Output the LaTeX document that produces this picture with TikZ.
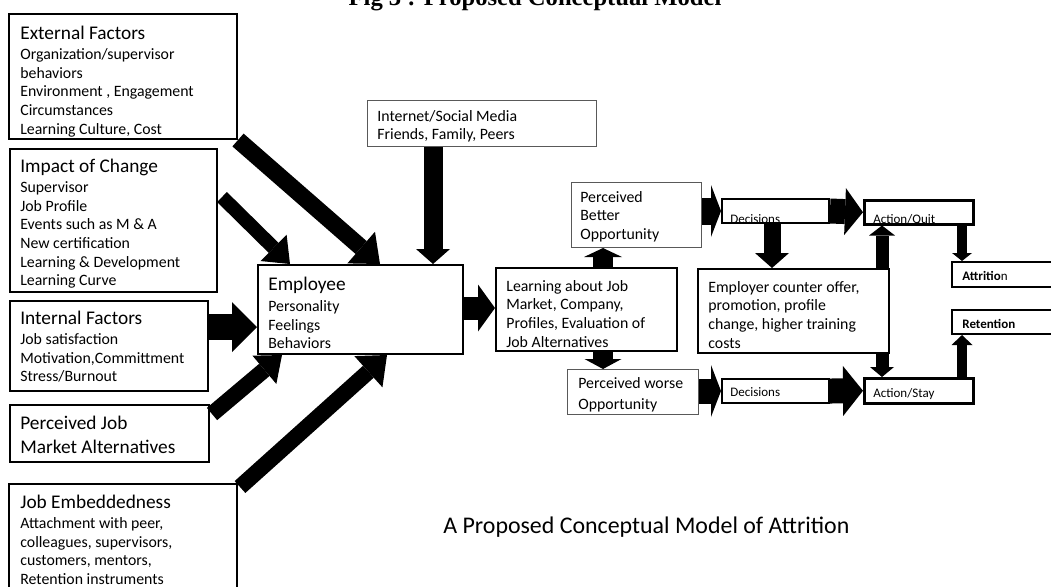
\documentclass[tikz,border=0pt]{standalone}
\usepackage{fontspec}
\setmainfont{Carlito}
\newfontfamily\titlefnt{Liberation Serif}
\usetikzlibrary{arrows.meta,calc}

\newcommand\headfnt{\fontsize{11}{13}\selectfont}
\newcommand\bodyfnt{\fontsize{9}{10.6}\selectfont}
\newcommand\smallfnt{\fontsize{7.4}{9}\selectfont}

\begin{document}
\begin{tikzpicture}[x=0.2mm,y=-0.2mm,
   box/.style={draw,line width=0.4mm,anchor=north west,inner sep=0pt},
   thinbox/.style={box,draw=black!65,line width=0.2mm},
   boxsize/.style 2 args={minimum width=#1*0.2mm,minimum height=#2*0.2mm},
   txt/.style={anchor=north west,inner sep=0pt,align=left,font=\bodyfnt},
   blk/.style n args={3}{draw=black,line width=#1,
     -{Triangle[line width=0pt,width=#2,length=#3]}}]
  \useasboundingbox (0,0) rectangle (1051,586);
  % title, cut at the top edge
  \node[anchor=base,font=\titlefnt\bfseries\fontsize{14}{16}\selectfont] (title) at (535,5) {Fig 3 : Proposed Conceptual Model};
  % left column
  \node[box,boxsize={228}{125}] (ext) at (8,13) {};
  \node[txt] (ext-t) at (20,25.4) {{\headfnt External Factors}\\[1pt]Organization/supervisor\\behaviors\\Environment , Engagement\\Circumstances\\Learning Culture, Cost};
  \node[box,boxsize={207}{143}] (imp) at (9,148) {};
  \node[txt] (imp-t) at (20,158.4) {{\headfnt Impact of Change}\\[1pt]Supervisor\\Job Profile\\Events such as M \& A\\New certification\\Learning \& Development\\Learning Curve};
  \node[box,boxsize={198}{90}] (int) at (9,300) {};
  \node[txt] (int-t) at (20,310.4) {{\headfnt Internal Factors}\\[1pt]Job satisfaction\\Motivation,Committment\\Stress/Burnout};
  \node[box,boxsize={199}{57}] (pjm) at (9,404) {};
  \node[txt,font=\fontsize{11}{13.6}\selectfont] (pjm-t) at (20,415.4) {Perceived Job\\Market Alternatives};
  \node[box,boxsize={228}{130}] (emb) at (8,483) {};
  \node[txt] (emb-t) at (20,494.4) {{\headfnt Job Embeddedness}\\[1pt]Attachment with peer,\\colleagues, supervisors,\\customers, mentors,\\Retention instruments};
  % middle
  \node[box,boxsize={205}{89}] (emp) at (257,264) {};
  \node[txt] (emp-t) at (268,276.4) {{\headfnt Employee}\\[1.5pt]Personality\\Feelings\\Behaviors};
  \node[thinbox,boxsize={229}{46}] (net) at (367,100) {};
  \node[txt] (net-t) at (377,109.8) {Internet/Social Media\\Friends, Family, Peers};
  \node[box,boxsize={181}{83}] (lrn) at (495,267) {};
  \node[txt] (lrn-t) at (506,279.8) {Learning about Job\\Market, Company,\\Profiles, Evaluation of\\Job Alternatives};
  \node[thinbox,boxsize={130}{65}] (pbo) at (571,182) {};
  \node[txt] (pbo-t) at (580,190.8) {Perceived\\Better\\Opportunity};
  \node[thinbox,boxsize={131}{45}] (pwo) at (567,369) {};
  \node[txt,font=\fontsize{9}{12.4}\selectfont] (pwo-t) at (578,376.8) {Perceived worse\\Opportunity};
  % right part
  \node[box,boxsize={107}{24}] (dec1) at (721,198) {};
  \node[txt,font=\smallfnt] (dec1-t) at (730,214) {Decisions};
  \node[box,boxsize={109}{24},line width=0.5mm] (aq) at (863,199) {};
  \node[txt,font=\smallfnt] (aq-t) at (873,214) {Action/Quit};
  \node[box,boxsize={191}{84}] (eco) at (697,268) {};
  \node[txt] (eco-t) at (708,280.8) {Employer counter offer,\\promotion, profile\\change, higher training\\costs};
  \node[box,boxsize={112}{25}] (att) at (951,261) {};
  \node[txt,font=\smallfnt] (att-t) at (962,271) {\textbf{Attritio}n};
  \node[box,boxsize={112}{24}] (ret) at (951,309) {};
  \node[txt,font=\smallfnt\bfseries] (ret-t) at (962,319) {Retention};
  \node[box,boxsize={107}{24}] (dec2) at (721,378) {};
  \node[txt,font=\smallfnt] (dec2-t) at (730,387) {Decisions};
  \node[box,boxsize={109}{25},line width=0.5mm] (as) at (863,377) {};
  \node[txt,font=\smallfnt] (as-t) at (873,388) {Action/Stay};
  % caption
  \node[anchor=west,inner sep=0pt,font=\fontsize{13.6}{16}\selectfont] (cap) at (443,527) {A Proposed Conceptual Model of Attrition};
  % block arrows into the employee
  \draw[blk={3.4mm}{8.4mm}{5mm}] (ext.south east) -- ($(emp.north west)+(123,0)$);
  \draw[blk={2.8mm}{7.4mm}{4.6mm}] ($(imp.north east)+(4,49)$) -- ($(emp.north west)+(33,0)$);
  \draw[blk={3.8mm}{6.8mm}{3mm}] ($(net.south west)+(66,0)$) -- ($(emp.north west)+(176,0)$);
  \draw[blk={5.2mm}{10mm}{5mm}] ($(int.north east)+(0,27)$) -- ($(emp.north west)+(0,63)$);
  \draw[blk={3.2mm}{7.4mm}{4.6mm}] ($(pjm.north east)+(2,10)$) -- ($(emp.south west)+(25,0)$);
  \draw[blk={3.2mm}{8.4mm}{5mm}] ($(emb.north east)+(2,4)$) -- ($(emp.south west)+(130,0)$);
  % from the employee on
  \draw[blk={4.6mm}{9.4mm}{3.4mm}] ($(emp.north east)+(0,44)$) -- ($(lrn.north west)+(0,41)$);
  \draw[blk={4mm}{7.6mm}{1.8mm}] ($(lrn.north west)+(108,0)$) -- ($(pbo.south west)+(32,0)$);
  \draw[blk={4mm}{7.4mm}{2mm}] ($(lrn.south west)+(108,0)$) -- ($(pwo.north west)+(36,0)$);
  \draw[blk={5.4mm}{10.4mm}{2mm}] ($(pbo.north east)+(0,29)$) -- ($(dec1.north west)+(0,13)$);
  \draw[blk={5mm}{9.4mm}{3.6mm}] (dec1.east) -- (aq.west);
  \draw[blk={3.4mm}{6.8mm}{3mm}] ($(dec1.south west)+(51,0)$) -- ($(eco.north west)+(75,0)$);
  \draw[blk={2.6mm}{5.2mm}{2mm}] ($(eco.north west)+(185,0)$) -- ($(aq.south west)+(19,0)$);
  \draw[blk={2mm}{4mm}{1.6mm}] ($(aq.south west)+(99,0)$) -- ($(att.north west)+(11,0)$);
  \draw[blk={2.6mm}{4.8mm}{2mm}] ($(eco.south west)+(185,0)$) -- ($(as.north west)+(19,0)$);
  \draw[blk={2mm}{4.2mm}{2mm}] ($(as.north west)+(99,0)$) -- ($(ret.south west)+(11,0)$);
  \draw[blk={5mm}{10.4mm}{2mm}] ($(pwo.north east)+(0,22)$) -- ($(dec2.north west)+(0,13)$);
  \draw[blk={5mm}{10mm}{4mm}] (dec2.east) -- (as.west);
\end{tikzpicture}
\end{document}
